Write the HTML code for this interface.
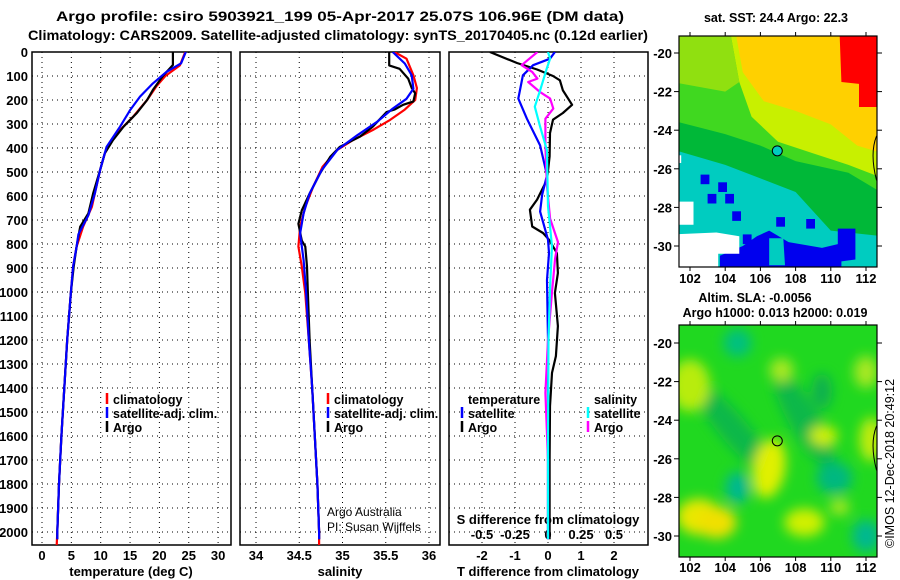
<!DOCTYPE html>
<html><head><meta charset="utf-8"><style>
html,body{margin:0;padding:0;background:#fff}
svg{display:block}
text{font-family:"Liberation Sans",sans-serif;font-weight:bold;fill:#000}
text.nb{font-weight:normal}
</style></head><body>
<svg id="c" width="900" height="580" viewBox="0 0 900 580">
<defs>
<clipPath id="clipP1"><rect x="32" y="52" width="199" height="493"/></clipPath>
<clipPath id="clipP2"><rect x="240" y="52" width="200" height="493"/></clipPath>
<clipPath id="clipP3"><rect x="449" y="52" width="199" height="493"/></clipPath>
<clipPath id="clipM1"><rect x="679" y="36" width="198" height="231"/></clipPath>
<clipPath id="clipM2"><rect x="679" y="325" width="198" height="232"/></clipPath>
<filter id="blur" x="-50%" y="-50%" width="200%" height="200%"><feGaussianBlur stdDeviation="6"/></filter>
</defs>
<text x="340" y="21" text-anchor="middle" font-size="14" textLength="568" lengthAdjust="spacingAndGlyphs">Argo profile: csiro 5903921_199 05-Apr-2017 25.07S 106.96E (DM data)</text>
<text x="338" y="40" text-anchor="middle" font-size="14" textLength="620" lengthAdjust="spacingAndGlyphs">Climatology: CARS2009. Satellite-adjusted climatology: synTS_20170405.nc (0.12d earlier)</text>
<g id="g"></g>
</svg>
<script>
// ---------- data ----------
const depthTicks = [0,100,200,300,400,500,600,700,800,900,1000,1100,1200,1300,1400,1500,1600,1700,1800,1900,2000];
const tempTicks = [0,5,10,15,20,25,30];
const salTicks = [34,34.5,35,35.5,36];
const tdiffTicks = [-2,-1,0,1,2];
const sdiffTicks = [-0.5,-0.25,0,0.25,0.5];
const sdiffTickLabels = ['-0.5','-0.25','0','0.25','0.5'];

const tArgoDepth = [0,54,100,158,200,256,311,367,422,492,590,672,728,811,894,1006,1200,1400,1600,1800,2000,2030];
const tArgo      = [22.3,22.3,20.6,18.9,17.9,16.1,13.9,12.1,10.7,9.9,8.7,7.9,6.5,5.9,5.4,4.9,4.3,3.8,3.3,2.9,2.6,2.6];
const tClimDepth = [0,56,100,142,200,270,325,381,422,492,590,645,728,811,894,1006,1200,1400,1600,1800,2000,2055];
const tClim      = [24.4,23.5,21.0,19.5,17.9,15.5,13.3,11.6,10.7,9.9,9.0,8.5,7.0,5.9,5.3,4.9,4.3,3.8,3.3,2.9,2.6,2.5];
const tSatDepth  = [0,47,83,131,186,242,311,395,492,590,680,760,811,894,1006,1200,1400,1600,1800,2000,2030];
const tSat       = [24.5,23.7,21.2,18.9,16.7,15.0,13.3,11.0,9.9,9.0,7.9,6.2,5.9,5.3,4.9,4.3,3.8,3.3,2.9,2.6,2.6];

const sArgoDepth = [0,56,70,111,150,172,206,220,240,250,311,353,395,436,506,590,660,716,786,811,894,1006,1200,1400,1600,1800,2000,2030];
const sArgo      = [35.54,35.54,35.66,35.76,35.8,35.84,35.82,35.7,35.6,35.51,35.35,35.2,34.97,34.86,34.74,34.62,34.53,34.49,34.53,34.57,34.59,34.6,34.62,34.65,34.68,34.71,34.73,34.73];
const sClimDepth = [0,28,97,150,200,240,283,325,367,408,478,562,645,728,811,894,1006,1200,1400,1600,1800,2000,2055];
const sClim      = [35.6,35.74,35.82,35.86,35.84,35.72,35.55,35.35,35.12,34.94,34.77,34.66,34.57,34.51,34.49,34.53,34.57,34.61,34.65,34.68,34.71,34.73,34.73];
const sSatDepth  = [0,48,97,153,195,236,291,347,408,492,590,672,756,867,1006,1200,1400,1600,1800,2000,2030];
const sSat       = [35.58,35.72,35.8,35.82,35.74,35.58,35.4,35.17,34.94,34.76,34.62,34.55,34.51,34.55,34.58,34.61,34.65,34.68,34.71,34.73,34.73];

const dTArgoDepth = [0,46,73,100,118,160,220,254,282,338,435,532,615,657,727,754,782,838,921,1004,1142,1267,1337,1476,1700,1900,2030];
const dTArgo      = [-1.76,-0.94,-0.33,0.15,0.36,0.45,0.73,0.45,0.15,0.06,0.05,-0.03,-0.33,-0.55,-0.48,-0.15,0.03,0.27,0.3,0.21,0.3,0.24,0.12,0.06,0.05,0.05,0.05];
const dTSatDepth  = [0,28,55,97,194,278,389,513,596,665,782,838,950,1200,1500,1800,2030];
const dTSat       = [0.21,0.06,-0.45,-0.76,-0.9,-0.64,-0.24,-0.03,-0.18,-0.24,0,0.03,-0.03,0,0,0,0];
const dSSatDepth  = [0,28,67,160,228,311,408,642,810,976,1200,1600,2030];
const dSSat       = [0,0.016,-0.008,-0.06,-0.1,-0.06,-0.008,0,0.03,0.016,0.004,0,0];
const dSArgoDepth = [0,55,83,111,125,167,194,236,278,389,556,694,792,861,1000,1200,1420,1700,2030];
const dSArgo      = [-0.08,-0.2,-0.12,-0.08,-0.15,-0.06,0.016,0.04,-0.02,-0.02,-0.008,0.016,0.076,0.054,0.03,0,-0.02,0,0];

const lonTicks = [102,104,106,108,110,112];
const latTicks = [-20,-22,-24,-26,-28,-30];
const argoLon = 106.96, argoLat = -25.07;

// ---------- helpers ----------
const NS='http://www.w3.org/2000/svg';
const G=document.getElementById('g');
function el(tag,attrs,parent){const e=document.createElementNS(NS,tag);for(const k in attrs)e.setAttribute(k,attrs[k]);(parent||G).appendChild(e);return e;}
const yD = d => 52 + d*0.24;
const xT = v => 42 + v*5.87;
const xS = v => 256 + (v-34)*86.5;
const xDT = v => 548 + v*33;
const xDS = v => 548 + v*132;
const mx = lon => 690 + (lon-102)*17.6;
const my1 = lat => 53 + (-20-lat)*19.3;
const my2 = lat => 343 + (-20-lat)*19.3;

function panel(x0,x1,ticks,fx,name){
  const g=el('g',{});
  
  
  depthTicks.forEach(d=>{const l=el('line',{x1:x0,x2:x1,y1:yD(d),y2:yD(d),stroke:'#000','stroke-width':1,'stroke-dasharray':'1,4'},g);
    });
  ticks.forEach(v=>{const l=el('line',{x1:fx(v),x2:fx(v),y1:52,y2:545,stroke:'#000','stroke-width':1,'stroke-dasharray':'1,4'},g);
    });
  const r=el('rect',{x:x0,y:52,width:x1-x0,height:493,fill:'none',stroke:'#000','stroke-width':1.5},g);
  
  return g;
}
function series(depths,vals,fx,color,name,clip){
  const pts=depths.map((d,i)=>fx(vals[i]).toFixed(1)+','+yD(d).toFixed(1)).join(' ');
  const p=el('polyline',{points:pts,fill:'none',stroke:color,'stroke-width':2.2,'stroke-linejoin':'round','clip-path':'url(#'+clip+')'});
  
}
function txt(x,y,s,opts){const t=el('text',Object.assign({x:x,y:y,'font-size':13},opts||{}));t.textContent=s;return t;}
function legend(x,y,color,label,name){
  const l=el('line',{x1:x,x2:x,y1:y-11,y2:y,stroke:color,'stroke-width':2.5});
  
  const t=txt(x+6,y,label,{'font-size':12.5});
  
}

// ---------- panels ----------
panel(32,231,tempTicks,xT,'temperature-panel');
panel(240,440,salTicks,xS,'salinity-panel');
panel(449,648,tdiffTicks,xDT,'difference-panel');

depthTicks.forEach(d=>{const t=txt(28,yD(d)+5,String(d),{'text-anchor':'end'});
  });
tempTicks.forEach(v=>{const t=txt(xT(v),560,String(v),{'text-anchor':'middle'});
  });
salTicks.forEach(v=>{const t=txt(xS(v),560,String(v),{'text-anchor':'middle'});
  });
tdiffTicks.forEach(v=>{const t=txt(xDT(v),560,String(v),{'text-anchor':'middle'});
  });
sdiffTicks.forEach((v,i)=>{const t=txt(xDS(v),539,sdiffTickLabels[i],{'text-anchor':'middle'});
  });

let t;
t=txt(131,576,'temperature (deg C)',{'text-anchor':'middle'});
t=txt(340,576,'salinity',{'text-anchor':'middle'});
t=txt(548,576,'T difference from climatology',{'text-anchor':'middle'});
t=txt(548,524,'S difference from climatology',{'text-anchor':'middle'});
t=txt(327,516,'Argo Australia',{'class':'nb','font-size':12});
t=txt(327,531,'PI: Susan Wijffels',{'class':'nb','font-size':12});

series(tClimDepth,tClim,xT,'#ff0000','temp-climatology-line','clipP1');
series(tArgoDepth,tArgo,xT,'#000000','temp-argo-line','clipP1');
series(tSatDepth,tSat,xT,'#0000ff','temp-satellite-line','clipP1');
series(sClimDepth,sClim,xS,'#ff0000','sal-climatology-line','clipP2');
series(sArgoDepth,sArgo,xS,'#000000','sal-argo-line','clipP2');
series(sSatDepth,sSat,xS,'#0000ff','sal-satellite-line','clipP2');
series(dTArgoDepth,dTArgo,xDT,'#000000','tdiff-argo-line','clipP3');
series(dTSatDepth,dTSat,xDT,'#0000ff','tdiff-satellite-line','clipP3');
series(dSArgoDepth,dSArgo,xDS,'#ff00ff','sdiff-argo-line','clipP3');
series(dSSatDepth,dSSat,xDS,'#00ffff','sdiff-satellite-line','clipP3');

legend(107,404,'#ff0000','climatology','p1-legend-climatology');
legend(107,418,'#0000ff','satellite-adj. clim.','p1-legend-satellite');
legend(107,432,'#000000','Argo','p1-legend-argo');
legend(328,404,'#ff0000','climatology','p2-legend-climatology');
legend(328,418,'#0000ff','satellite-adj. clim.','p2-legend-satellite');
legend(328,432,'#000000','Argo','p2-legend-argo');
t=txt(468,404,'temperature',{'font-size':12.5});
legend(462,418,'#0000ff','satellite','tdiff-legend-satellite');
legend(462,432,'#000000','Argo','tdiff-legend-argo');
t=txt(594,404,'salinity',{'font-size':12.5});
legend(588,418,'#00ffff','satellite','sdiff-legend-satellite');
legend(588,432,'#ff00ff','Argo','sdiff-legend-argo');

// ---------- maps ----------
function poly(pts,fill,my,g,name){
  const p=el('polygon',{points:pts.map(q=>mx(q[0]).toFixed(1)+','+my(q[1]).toFixed(1)).join(' '),fill:fill},g);
  
}
function mapFrame(y0,h,my,name,lonLabY){
  const r=el('rect',{x:679,y:y0,width:198,height:h,fill:'none',stroke:'#000','stroke-width':1.2});
  
  lonTicks.forEach(v=>{
    el('line',{x1:mx(v),x2:mx(v),y1:y0,y2:y0-4,stroke:'#000'});
    el('line',{x1:mx(v),x2:mx(v),y1:y0+h,y2:y0+h+4,stroke:'#000'});
    const t=txt(mx(v),lonLabY,String(v),{'text-anchor':'middle'});});
  latTicks.forEach(v=>{
    el('line',{x1:679,x2:674,y1:my(v),y2:my(v),stroke:'#000'});
    el('line',{x1:877,x2:882,y1:my(v),y2:my(v),stroke:'#000'});
    const t=txt(672,my(v)+5,String(v),{'text-anchor':'end'});});
}
// SST map
const m1=el('g',{'clip-path':'url(#clipM1)'});

poly([[101,-19],[113,-19],[113,-32],[101,-32]],'#00ccc0',my1,m1,'sst-cyan');
poly([[101,-19],[113,-19],[113,-29.5],[110,-29.2],[108,-27.2],[106,-26.5],[104,-25.8],[101,-25]],'#00b838',my1,m1,'sst-green');
poly([[101,-19],[113,-19],[113,-27.3],[111,-26.2],[108,-25.6],[106,-24.8],[104,-24.2],[101,-23.5]],'#40d820',my1,m1,'sst-lightgreen');
poly([[104.3,-19],[113,-19],[113,-26.5],[111,-25.8],[109,-25.2],[107,-24.6],[105.5,-23.3],[104.8,-21.5]],'#c8f000',my1,m1,'sst-yellowgreen');
poly([[101,-19],[104.3,-19],[104.8,-21.5],[104,-22],[101,-21.5]],'#90e010',my1,m1,'sst-lime');
poly([[104.6,-19],[113,-19],[113,-25.2],[111.5,-24.8],[110,-23.7],[108,-23],[106.2,-22.5],[105,-21]],'#ffd000',my1,m1,'sst-orange');
poly([[110.5,-19],[113,-19],[113,-22.8],[111.6,-22.8],[111.6,-21.6],[110.6,-21.5]],'#ff0000',my1,m1,'sst-red');
poly([[103.7,-32],[103.7,-30.5],[105,-30],[105.8,-29.5],[106.5,-29.2],[107.6,-29.8],[109.5,-30.1],[110.4,-29.9],[110.4,-29.1],[111.4,-29.1],[111.4,-30.7],[110.6,-30.8],[110.6,-32]],'#0000ee',my1,m1,'sst-blue');
poly([[106.5,-29.6],[107.3,-29.6],[107.4,-31],[106.5,-31]],'#00ccc0',my1,m1,'sst-cyan-patch');
poly([[101,-29.4],[103.5,-29.3],[104.8,-29.5],[104.8,-30.4],[103.6,-30.4],[103.6,-32],[101,-32]],'#ffffff',my1,m1,'sst-white-area');
poly([[101,-27.7],[102.2,-27.7],[102.2,-28.9],[101,-28.9]],'#ffffff',my1,m1,'sst-white-patch');
poly([[101,-25.3],[101.5,-25.3],[101.5,-25.7],[101,-25.7]],'#ffffff',my1,m1,'sst-white-dot');
[[103,-27.3],[103.6,-26.7],[104,-27.3],[104.4,-28.2],[102.6,-26.3],[108.6,-28.6],[105,-29.4],[106.9,-28.5]].forEach(q=>{
  poly([[q[0],q[1]],[q[0]+0.5,q[1]],[q[0]+0.5,q[1]-0.5],[q[0],q[1]-0.5]],'#0000ee',my1,m1,'sst-blue-patch');});
let cl=el('path',{d:`M${mx(112.6)},${my1(-24.3)} Q${mx(112.2)},${my1(-25.2)} ${mx(112.6)},${my1(-26.6)}`,fill:'none',stroke:'#000','stroke-width':1},m1);

let c1=el('circle',{cx:mx(argoLon),cy:my1(argoLat),r:5,fill:'#00ccc0',stroke:'#000','stroke-width':1});

mapFrame(36,231,my1,'sst-map',283);
t=txt(776,22,'sat. SST: 24.4 Argo: 22.3',{'text-anchor':'middle','font-size':12.5});

// SLA map
const m2=el('g',{'clip-path':'url(#clipM2)'});

el('rect',{x:679,y:325,width:198,height:232,fill:'#20d820'},m2);
const blobs=el('g',{filter:'url(#blur)'},m2);
function blob(lon,lat,rx,ry,fill,rot){const e=el('ellipse',{cx:mx(lon),cy:my2(lat),rx:rx,ry:ry,fill:fill,transform:`rotate(${rot||0} ${mx(lon)} ${my2(lat)})`},blobs);
  }
blob(104.5,-24.5,60,14,'#10b848',50);
blob(108.5,-24,55,15,'#10b848',60);
blob(104.7,-20,14,14,'#00c080');
blob(104.7,-27.5,12,16,'#00b890');
blob(110.2,-27,18,16,'#00b880');
blob(112,-30,14,16,'#00b890');
blob(109.5,-22.5,10,18,'#10b050');
blob(102,-22.2,20,26,'#b8ec10');
blob(102.5,-29,22,18,'#e8e800');
blob(103.5,-29.3,20,16,'#f0e000');
blob(106.5,-26.5,16,30,'#e0f000',10);
blob(108.5,-29.3,20,14,'#d0f000');
blob(107.2,-21.4,12,12,'#a8e820');
blob(109.6,-24.8,14,10,'#d0f000');
blob(112,-21.5,12,16,'#a8e820');
blob(112.3,-25,12,22,'#c0ec10');
blob(110.5,-28.5,10,8,'#a8e820');
cl=el('path',{d:`M${mx(112.6)},${my2(-24.3)} Q${mx(112.2)},${my2(-25.2)} ${mx(112.6)},${my2(-26.6)}`,fill:'none',stroke:'#000','stroke-width':1},m2);

let c2=el('circle',{cx:mx(argoLon),cy:my2(argoLat),r:5,fill:'none',stroke:'#000','stroke-width':1});

mapFrame(325,232,my2,'sla-map',572);
t=txt(755,302,'Altim. SLA: -0.0056',{'text-anchor':'middle','font-size':12.5});
t=txt(775,317,'Argo h1000: 0.013 h2000: 0.019',{'text-anchor':'middle','font-size':12.5});
t=txt(0,0,'©IMOS 12-Dec-2018 20:49:12',{'class':'nb','font-size':12.5,transform:'translate(894,548) rotate(-90)'});

</script>
</body></html>
